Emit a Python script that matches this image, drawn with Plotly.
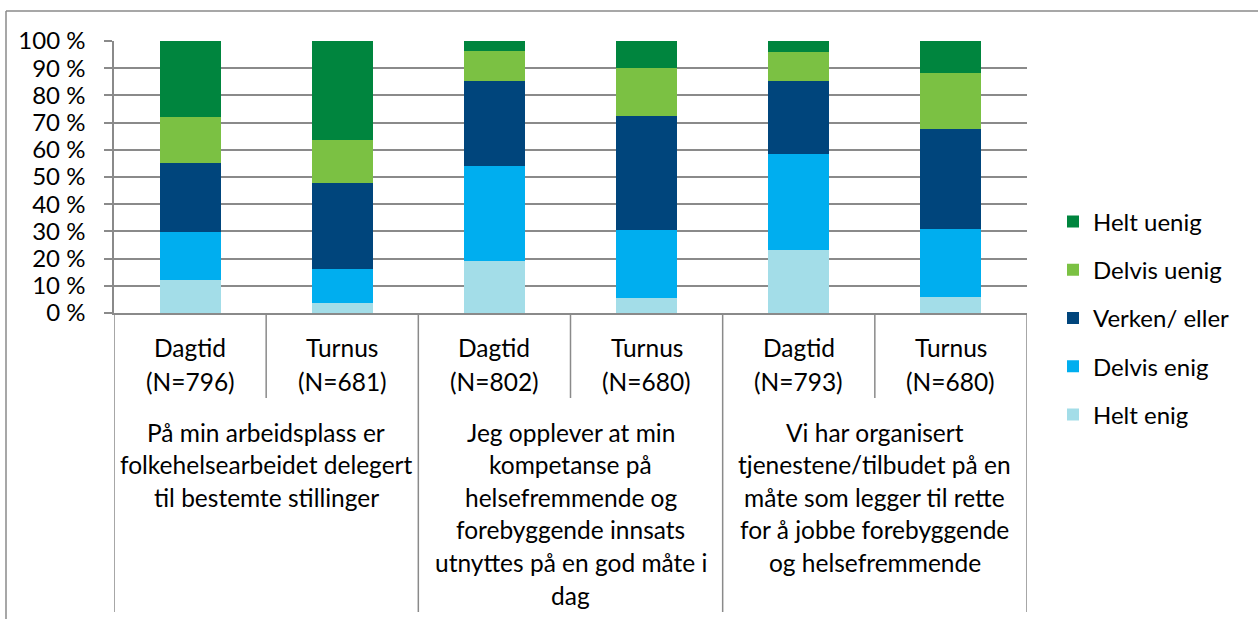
import plotly.graph_objects as go

# survey answers, share in percent
sub_labels = ["Dagtid", "Turnus", "Dagtid", "Turnus", "Dagtid", "Turnus"]
n_values = [796, 681, 802, 680, 793, 680]
group_labels = [
    ["På min arbeidsplass er", "folkehelsearbeidet delegert", "til bestemte stillinger"],
    ["Jeg opplever at min", "kompetanse på", "helsefremmende og",
     "forebyggende innsats", "utnyttes på en god måte i", "dag"],
    ["Vi har organisert", "tjenestene/tilbudet på en", "måte som legger til rette",
     "for å jobbe forebyggende", "og helsefremmende"],
]

helt_enig = [12.2, 3.7, 19.3, 5.6, 23.1, 6.0]
delvis_enig = [17.4, 12.6, 34.8, 24.8, 35.4, 25.0]
verken_eller = [25.5, 31.6, 31.1, 42.2, 26.8, 36.7]
delvis_uenig = [17.0, 15.7, 11.1, 17.6, 10.5, 20.5]
helt_uenig = [27.9, 36.4, 3.7, 9.8, 4.2, 11.8]

series_names = ["Helt enig", "Delvis enig", "Verken/ eller", "Delvis uenig", "Helt uenig"]
series_values = [helt_enig, delvis_enig, verken_eller, delvis_uenig, helt_uenig]
colors = ["#A3DDE8", "#00AEEF", "#00457C", "#7BC143", "#00853E"]

W, H = 1258, 619
L, R, T, B = 114, 1027, 41, 313
FONT = "Lato"
GRID = "#8a8a8a"


def py(px):
    # pixel row -> paper y
    return (B - px) / (B - T)


def pxx(px):
    return (px - L) / (R - L)


x = list(range(len(sub_labels)))

fig = go.Figure()
for i, (name, vals, col) in enumerate(zip(series_names, series_values, colors)):
    # legend lists the top segment first, like Excel does
    fig.add_trace(go.Bar(x=x, y=vals, name=name, marker_color=col,
                         marker_line_width=0, legendgroup=str(i),
                         legendrank=100 - i))

annotations = []
for i, (lab, n) in enumerate(zip(sub_labels, n_values)):
    annotations.append(dict(x=i, y=py(347), text=lab))
    annotations.append(dict(x=i, y=py(381), text=f"(N={n})"))
for g, lines in enumerate(group_labels):
    for k, line in enumerate(lines):
        annotations.append(dict(x=2 * g + 0.5, y=py(432 + 32.6 * k), text=line))
for a in annotations:
    a.update(xref="x", yref="paper", showarrow=False, xanchor="center",
             yanchor="middle", font=dict(family=FONT, size=24.5, color="#000"))

shapes = []
for xb in [-0.5, 1.5, 3.5, 5.5]:
    shapes.append(dict(type="line", xref="x", yref="paper", x0=xb, x1=xb,
                       y0=0, y1=py(612), line=dict(color=GRID, width=1.5)))
for xb in [0.5, 2.5, 4.5]:
    shapes.append(dict(type="line", xref="x", yref="paper", x0=xb, x1=xb,
                       y0=0, y1=py(398), line=dict(color=GRID, width=1.5)))
# outer chart frame
shapes.append(dict(type="line", xref="paper", yref="paper", x0=pxx(6), x1=pxx(1260),
                   y0=py(11), y1=py(11), line=dict(color=GRID, width=1.5)))
shapes.append(dict(type="line", xref="paper", yref="paper", x0=pxx(6), x1=pxx(6),
                   y0=py(11), y1=py(625), line=dict(color=GRID, width=1.5)))

fig.update_layout(
    width=W, height=H,
    margin=dict(l=L, r=W - R, t=T, b=H - B),
    barmode="stack", bargap=0.6,
    plot_bgcolor="white", paper_bgcolor="white",
    font=dict(family=FONT, size=24, color="#000"),
    showlegend=True,
    legend=dict(traceorder="grouped", x=pxx(1053), xanchor="left",
                y=py(318), yanchor="middle", tracegroupgap=14,
                font=dict(family=FONT, size=24, color="#000")),
    annotations=annotations,
    shapes=shapes,
)
fig.update_xaxes(range=[-0.5, 5.5], showticklabels=False, showgrid=False,
                 zeroline=False, showline=True, linecolor=GRID, linewidth=1.5)
fig.update_yaxes(range=[0, 100], dtick=10, ticksuffix=" %", showgrid=True,
                 gridcolor=GRID, gridwidth=1.5, zeroline=False, showline=True,
                 linecolor=GRID, linewidth=1.5, ticks="outside", ticklen=8,
                 tickcolor=GRID, tickwidth=1.5, ticklabelstandoff=14,
                 tickfont=dict(family=FONT, size=24, color="#000"))

# page body has a default margin, drop it so the figure sits at 0,0
fig.write_html("out.html", config={"displayModeBar": False},
               post_script="document.body.style.margin='0';")
